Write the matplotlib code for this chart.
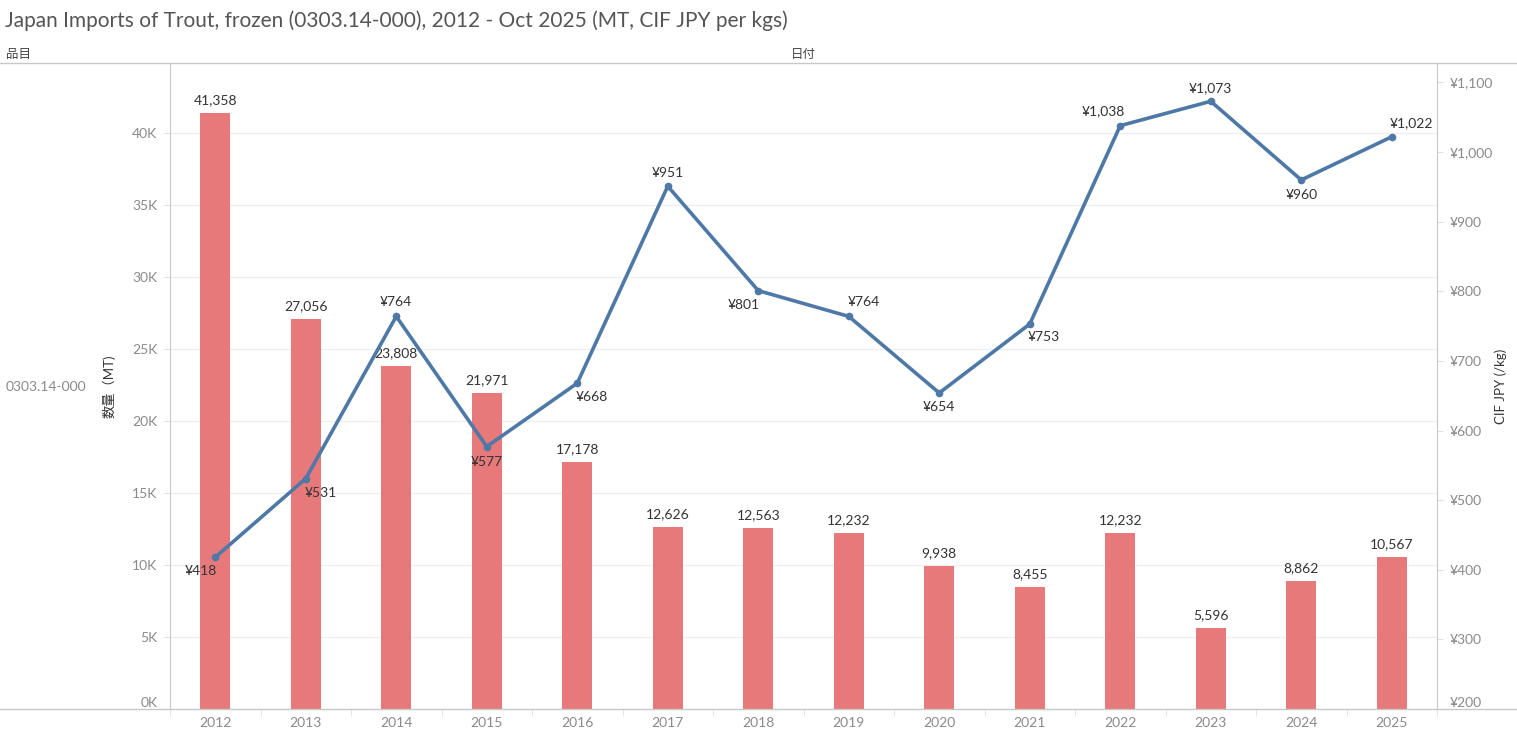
import matplotlib.pyplot as plt
from matplotlib.lines import Line2D
from matplotlib.ticker import FuncFormatter, FixedLocator

plt.rcParams['font.family'] = ['Lato', 'Noto Sans CJK JP', 'DejaVu Sans']

years = ["2012", "2013", "2014", "2015", "2016", "2017", "2018",
         "2019", "2020", "2021", "2022", "2023", "2024", "2025"]
volume_mt = [41358, 27056, 23808, 21971, 17178, 12626, 12563,
             12232, 9938, 8455, 12232, 5596, 8862, 10567]
cif_jpy = [418, 531, 764, 577, 668, 951, 801, 764, 654, 753, 1038, 1073, 960, 1022]

# where each price label sits relative to its point (dx, dy in pixels)
price_label_pos = [(-14, -14), (15, -14), (0, 14), (0, -15), (15, -14), (0, 13),
                   (-14, -14), (15, 14), (0, -14), (14, -13), (-17, 14), (0, 13),
                   (0, -15), (20, 14)]

bar_color = "#e8797b"
line_color = "#4e79a7"
grey = "#8a8a8a"
rule = "#c8c8c8"

fig = plt.figure(figsize=(15.17, 7.32), dpi=100)
ax = fig.add_axes([170 / 1517, 1 - 709 / 732, (1437 - 170) / 1517, (709 - 63) / 732])
x = list(range(len(years)))

ax.bar(x, volume_mt, width=0.33, color=bar_color, zorder=2)
ax.set_xlim(-0.5, 13.5)
ax.set_ylim(0, 44860)
ax.yaxis.set_major_locator(FixedLocator(range(0, 45000, 5000)))
ax.yaxis.set_major_formatter(FuncFormatter(lambda v, p: f"{int(v / 1000)}K"))
ax.grid(axis="y", color="#efefef", linewidth=0.9, zorder=0)
ax.set_xticks(x)
ax.set_xticklabels(years)
ax.set_xticks([i - 0.5 for i in range(len(years) + 1)], minor=True)
ax.tick_params(axis="x", which="major", length=0, pad=6, labelsize=10, labelcolor=grey)
ax.tick_params(axis="x", which="minor", length=5, color="#e0e0e0")
ax.tick_params(axis="y", length=4, color="#e0e0e0", labelsize=10, labelcolor=grey, pad=5)
for s in ["top", "bottom"]:
    ax.spines[s].set_visible(False)
ax.spines["left"].set_color(rule)
ax.spines["right"].set_visible(False)

for xi, v in zip(x, volume_mt):
    ax.annotate(f"{v:,}", (xi, v), xytext=(0, 5), textcoords="offset points",
                ha="center", va="bottom", fontsize=10, color="#333333", zorder=5)

ax2 = ax.twinx()
ax2.plot(x, cif_jpy, color=line_color, linewidth=2.6, marker="o", markersize=4.5, zorder=4)
ax2.set_ylim(200, 1128)
ax2.yaxis.set_major_locator(FixedLocator(range(200, 1101, 100)))
ax2.yaxis.set_major_formatter(FuncFormatter(lambda v, p: f"¥{int(v):,}"))
ax2.tick_params(axis="y", length=4, color="#e0e0e0", labelsize=10, labelcolor=grey, pad=5)
for s in ["top", "bottom", "left"]:
    ax2.spines[s].set_visible(False)
ax2.spines["right"].set_color(rule)

for xi, v, (dx, dy) in zip(x, cif_jpy, price_label_pos):
    ax2.annotate(f"¥{v:,}", (xi, v), xytext=(dx * 0.72, dy * 0.72), textcoords="offset points",
                 ha="center", va="center", fontsize=10, color="#333333", zorder=6)

ax.set_ylabel("数量（MT)", fontsize=9.5, color="#333333")
ax.yaxis.set_label_coords(-0.0427, 0.5)
ax2.set_ylabel("CIF JPY (/kg)", fontsize=9.5, color="#333333")
ax2.yaxis.set_label_coords(1.045, 0.5)

fig.text(5 / 1517, 1 - 21 / 732, "Japan Imports of Trout, frozen (0303.14-000), 2012 - Oct 2025 (MT, CIF JPY per kgs)",
         fontsize=15, color="#555555", va="center", ha="left")
fig.text(6 / 1517, 1 - 54 / 732, "品目", fontsize=9, color="#444444", va="center")
fig.text(791 / 1517, 1 - 54 / 732, "日付", fontsize=9, color="#444444", va="center")
fig.text(6 / 1517, 1 - 387 / 732, "0303.14-000", fontsize=10, color=grey, va="center")

fig.add_artist(Line2D([0, 1], [1 - 63 / 732] * 2, color=rule, linewidth=1, transform=fig.transFigure))
fig.add_artist(Line2D([0, 1], [1 - 709 / 732] * 2, color=rule, linewidth=1, transform=fig.transFigure))

# keep the lowest tick labels inside the pane, as the original does
fig.canvas.draw()
ax.get_yticklabels()[0].set_va("bottom")
ax2.get_yticklabels()[0].set_va("bottom")

fig.savefig("out.png", dpi=100)
